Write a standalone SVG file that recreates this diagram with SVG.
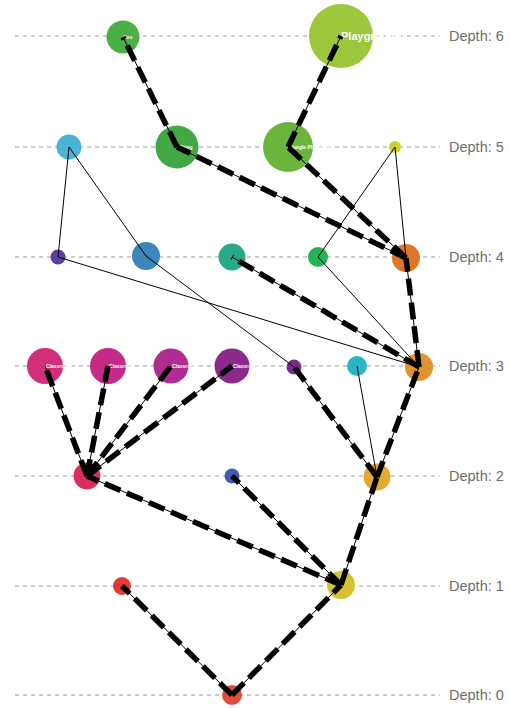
<svg xmlns="http://www.w3.org/2000/svg" width="510" height="708" viewBox="0 0 510 708">
<style>
.depth{stroke:#9a9a9a;stroke-width:1;stroke-dasharray:4 4;fill:none}
.dl{font-family:"Liberation Sans",Arial,sans-serif;font-size:14.5px;fill:#6e6e6e}
.lbl{font-family:"Liberation Sans",Arial,sans-serif;fill:#fff;font-weight:bold}
.thin{stroke:#000;stroke-width:1;fill:none}
.thick{stroke:#000;stroke-width:5.5;stroke-dasharray:17 7;fill:none}
</style>
<rect width="510" height="708" fill="#fff"/>
<g id="depth-lines">
<line class="depth" x1="15" y1="36" x2="440" y2="36"/>
<line class="depth" x1="15" y1="147" x2="440" y2="147"/>
<line class="depth" x1="15" y1="257" x2="440" y2="257"/>
<line class="depth" x1="15" y1="366" x2="440" y2="366"/>
<line class="depth" x1="15" y1="476" x2="440" y2="476"/>
<line class="depth" x1="15" y1="586" x2="440" y2="586"/>
<line class="depth" x1="15" y1="695" x2="440" y2="695"/>
<text class="dl" x="449" y="41">Depth: 6</text>
<text class="dl" x="449" y="152">Depth: 5</text>
<text class="dl" x="449" y="262">Depth: 4</text>
<text class="dl" x="449" y="371">Depth: 3</text>
<text class="dl" x="449" y="481">Depth: 2</text>
<text class="dl" x="449" y="591">Depth: 1</text>
<text class="dl" x="449" y="700">Depth: 0</text>
</g>
<g id="n6a"><circle cx="123" cy="37" r="16.5" fill="#4caf45"/><text class="lbl" x="123" y="39" font-size="5">Neo</text></g>
<g id="n6b"><circle cx="341" cy="36" r="32" fill="#9cc63b"/><text class="lbl" x="341" y="40" font-size="11" font-weight="normal">Playground</text></g>
<g id="n5a"><circle cx="69" cy="147" r="12.5" fill="#4bb3d4"/></g>
<g id="n5b"><circle cx="177" cy="147" r="21.5" fill="#41a844"/><text class="lbl" x="179" y="149" font-size="5">Thing</text></g>
<g id="n5c"><circle cx="288" cy="147" r="25" fill="#6bb53e"/><text class="lbl" x="290" y="149" font-size="5">Jungle Play Room</text></g>
<g id="n5d"><circle cx="395" cy="147" r="6" fill="#c8d42a"/></g>
<g id="n4a"><circle cx="58" cy="257" r="7.5" fill="#5a3f9e"/></g>
<g id="n4b"><circle cx="146" cy="256" r="14" fill="#3d86b8"/></g>
<g id="n4c"><circle cx="232" cy="257" r="13.5" fill="#27a98a"/></g>
<g id="n4d"><circle cx="318" cy="257" r="10" fill="#27b25a"/></g>
<g id="n4e"><circle cx="406" cy="258" r="14" fill="#e0762a"/></g>
<g id="n3a"><circle cx="45" cy="366" r="18" fill="#d22f7a"/><text class="lbl" x="46" y="368" font-size="5">Classroom</text></g>
<g id="n3b"><circle cx="108" cy="366" r="18" fill="#c42a86"/><text class="lbl" x="109" y="368" font-size="5">Classroom</text></g>
<g id="n3c"><circle cx="171" cy="366" r="17.5" fill="#b02c90"/><text class="lbl" x="172" y="368" font-size="5">Classroom</text></g>
<g id="n3d"><circle cx="232" cy="366" r="17.5" fill="#8a2b8c"/><text class="lbl" x="233" y="368" font-size="5">Classroom</text></g>
<g id="n3e"><circle cx="294" cy="367" r="7.5" fill="#7a2b8d"/></g>
<g id="n3f"><circle cx="357" cy="366" r="10" fill="#2ab6c6"/></g>
<g id="n3g"><circle cx="419" cy="367" r="14" fill="#e39230"/></g>
<g id="n2a"><circle cx="87" cy="476" r="13.5" fill="#d9305a"/></g>
<g id="n2b"><circle cx="232" cy="476" r="7.5" fill="#3b5db6"/></g>
<g id="n2c"><circle cx="377" cy="477" r="13.5" fill="#e3a933"/></g>
<g id="n1a"><circle cx="122" cy="586" r="9" fill="#e03a3a"/></g>
<g id="n1b"><circle cx="341" cy="585" r="14" fill="#d4c233"/></g>
<g id="n0"><circle cx="232" cy="695" r="10" fill="#e34b3b"/></g>
<g id="connectors">
<g class="thin">
<line x1="232" y1="695" x2="122" y2="586"/>
<line x1="232" y1="695" x2="341" y2="585"/>
<line x1="341" y1="585" x2="87" y2="476"/>
<line x1="341" y1="585" x2="232" y2="476"/>
<line x1="341" y1="585" x2="377" y2="477"/>
<line x1="87" y1="476" x2="45" y2="366"/>
<line x1="87" y1="476" x2="108" y2="366"/>
<line x1="87" y1="476" x2="171" y2="366"/>
<line x1="87" y1="476" x2="232" y2="366"/>
<line x1="377" y1="477" x2="294" y2="367"/>
<line x1="377" y1="477" x2="357" y2="366"/>
<line x1="377" y1="477" x2="419" y2="367"/>
<line x1="419" y1="367" x2="406" y2="258"/>
<line x1="419" y1="367" x2="232" y2="257"/>
<line x1="419" y1="367" x2="58" y2="257"/>
<line x1="419" y1="367" x2="318" y2="257"/>
<line x1="406" y1="258" x2="177" y2="147"/>
<line x1="406" y1="258" x2="288" y2="147"/>
<line x1="406" y1="258" x2="395" y2="147"/>
<line x1="318" y1="257" x2="395" y2="147"/>
<line x1="69" y1="147" x2="58" y2="257"/>
<line x1="69" y1="147" x2="146" y2="256"/>
<line x1="146" y1="256" x2="294" y2="367"/>
<line x1="177" y1="147" x2="123" y2="37"/>
<line x1="288" y1="147" x2="341" y2="36"/>
</g>
<g class="thick">
<line x1="232" y1="695" x2="122" y2="586"/>
<line x1="232" y1="695" x2="341" y2="585"/>
<line x1="341" y1="585" x2="87" y2="476"/>
<line x1="341" y1="585" x2="232" y2="476"/>
<line x1="341" y1="585" x2="377" y2="477"/>
<line x1="87" y1="476" x2="45" y2="366"/>
<line x1="87" y1="476" x2="108" y2="366"/>
<line x1="87" y1="476" x2="171" y2="366"/>
<line x1="87" y1="476" x2="232" y2="366"/>
<line x1="377" y1="477" x2="294" y2="367"/>
<line x1="377" y1="477" x2="419" y2="367"/>
<line x1="419" y1="367" x2="406" y2="258"/>
<line x1="419" y1="367" x2="232" y2="257"/>
<line x1="406" y1="258" x2="177" y2="147"/>
<line x1="406" y1="258" x2="288" y2="147"/>
<line x1="177" y1="147" x2="123" y2="37"/>
<line x1="288" y1="147" x2="341" y2="36"/>
</g>
</g>
</svg>
